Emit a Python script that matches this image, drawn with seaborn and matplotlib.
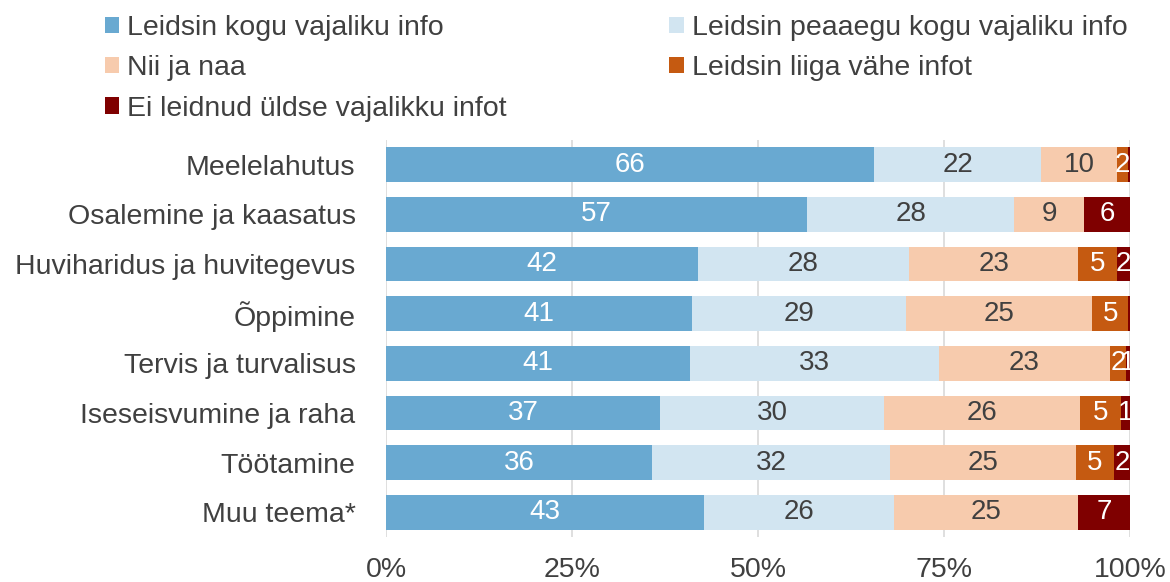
import numpy as np
import pandas as pd
import matplotlib
matplotlib.use("Agg")
import matplotlib.pyplot as plt
import seaborn as sns
from matplotlib.patches import Patch

# Andmed (protsendid, loetud jooniselt)
teemad = ["Meelelahutus", "Osalemine ja kaasatus", "Huviharidus ja huvitegevus",
          "Õppimine", "Tervis ja turvalisus", "Iseseisvumine ja raha",
          "Töötamine", "Muu teema*"]
kogu = [65.6, 56.6, 41.9, 41.1, 40.9, 36.8, 35.8, 42.7]
peaaegu = [22.4, 27.8, 28.4, 28.8, 33.4, 30.1, 31.9, 25.6]
nii_ja_naa = [10.2, 9.4, 22.7, 25.0, 23.0, 26.4, 25.0, 24.7]
liiga_vahe = [1.5, 0.0, 5.2, 4.8, 2.1, 5.4, 5.1, 0.0]
ei_leidnud = [0.3, 6.2, 1.8, 0.3, 0.6, 1.3, 2.2, 7.0]

seeriad = ["Leidsin kogu vajaliku info", "Leidsin peaaegu kogu vajaliku info",
           "Nii ja naa", "Leidsin liiga vähe infot", "Ei leidnud üldse vajalikku infot"]
varvid = ["#69A9D1", "#D2E5F1", "#F7CBAD", "#C55A11", "#7F0000"]
teksti_varvid = ["white", "#404040", "#404040", "white", "white"]

df = pd.DataFrame({"teema": teemad, seeriad[0]: kogu, seeriad[1]: peaaegu,
                   seeriad[2]: nii_ja_naa, seeriad[3]: liiga_vahe, seeriad[4]: ei_leidnud})
kum = df[seeriad].cumsum(axis=1)

sns.set_style("white")
plt.rcParams["font.family"] = ["Liberation Sans", "DejaVu Sans"]
plt.rcParams["text.color"] = "#404040"

fig = plt.figure(figsize=(11.7, 5.82), dpi=100)
ax = fig.add_axes([0.33, 0.077, 0.636, 0.683])

# virnastatud tulbad: kumulatiivsed summad tagant ettepoole
for i in reversed(range(len(seeriad))):
    sns.barplot(x=kum[seeriad[i]], y=df["teema"], color=varvid[i], orient="h",
                width=0.7, linewidth=0, saturation=1, ax=ax, zorder=2)

# andmesildid
for j in range(len(teemad)):
    algus = 0
    for i, s in enumerate(seeriad):
        v = df.loc[j, s]
        if v >= 0.5:
            ax.text(algus + v / 2, j, str(int(v + 0.5)), ha="center", va="center",
                    fontsize=20, color=teksti_varvid[i], zorder=3)
        algus += v

ax.set_xlim(0, 100)
ax.set_ylim(7.5, -0.5)
ax.set_xticks([0, 25, 50, 75, 100])
ax.set_xticklabels(["0%", "25%", "50%", "75%", "100%"])
ax.xaxis.grid(True, color="#D9D9D9", linewidth=1.2, zorder=0)
ax.set_axisbelow(True)
ax.set_xlabel("")
ax.set_ylabel("")
ax.tick_params(axis="x", labelsize=20.5, labelcolor="#404040", length=0, pad=14)
ax.tick_params(axis="y", labelsize=20.5, labelcolor="#404040", length=0, pad=22)
sns.despine(ax=ax, left=True, bottom=True)

# legend, kaks veergu
jarjestus = [0, 2, 4, 1, 3]
kasitsejad = [Patch(facecolor=varvid[k], edgecolor="none") for k in jarjestus]
fig.legend(kasitsejad, [seeriad[k] for k in jarjestus], ncol=2, loc="upper left",
           bbox_to_anchor=(0.068, 1.018), frameon=False, fontsize=20.5,
           handlelength=0.5, handleheight=0.5, handletextpad=0.28,
           columnspacing=5.7, labelspacing=0.5, labelcolor="#404040")

fig.savefig("out.png", dpi=100)
